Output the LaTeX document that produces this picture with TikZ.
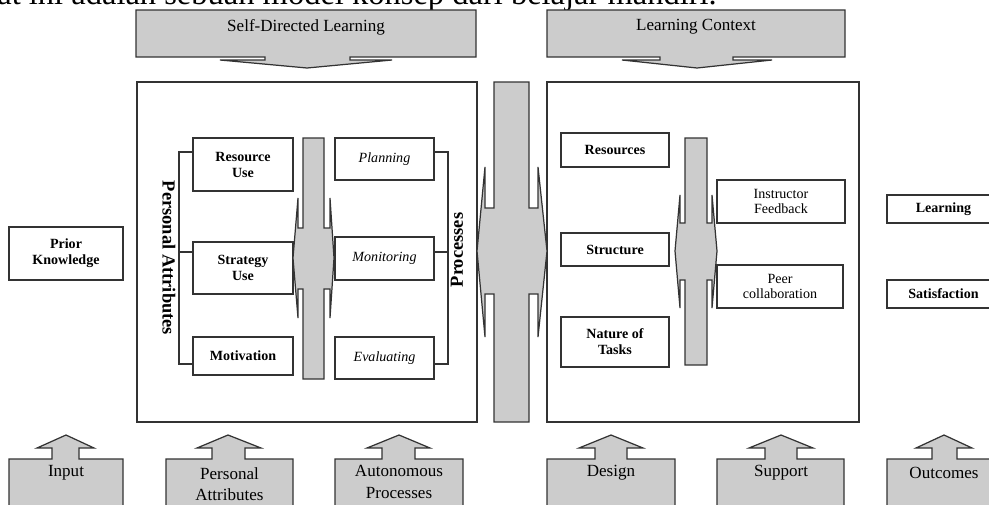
\documentclass[tikz,border=0pt]{standalone}
\usepackage{fontspec}
\setmainfont{Liberation Serif}
\definecolor{boxgray}{HTML}{CCCCCC}
\definecolor{linegray}{HTML}{333333}
\tikzset{
  lin/.style={draw=linegray, line width=0.7pt},
  garrow/.style={draw=linegray, fill=boxgray, line width=0.7pt, line join=miter},
  ibox/.style={draw=linegray, line width=0.7pt, align=center, inner sep=1pt,
    font=\fontsize{8}{9.1}\selectfont\bfseries},
  pbox/.style={ibox, font=\fontsize{8}{9.1}\selectfont\itshape},
  rbox/.style={ibox, font=\fontsize{8}{8.6}\selectfont},
  lbl/.style={align=center, inner sep=0pt, font=\fontsize{9.7}{12.3}\selectfont},
  rlbl/.style={inner sep=0pt, font=\fontsize{10.5}{12}\selectfont\bfseries}
}
\begin{document}
\begin{tikzpicture}[x=0.02cm, y=-0.02cm]
\useasboundingbox (0,0) rectangle (989,504);
\clip (0,0) rectangle (989,504);
% line of text cut by the top edge
\node[anchor=base west, inner sep=0pt, font=\fontsize{18.5}{20}\selectfont] (capt) at (-3,4)
  {at ini adalah sebuah model konsep dari belajar mandiri.};
% top arrows
\draw[garrow] (136,10) -- (476,10) -- (476,57) -- (350,57) -- (350,60) -- (392,60) -- (307,68)
  -- (220,60) -- (265,60) -- (265,57) -- (136,57) -- cycle;
\node[lbl] (sdl) at (306,27) {Self-Directed Learning};
\draw[garrow] (547,10) -- (845,10) -- (845,57) -- (733,57) -- (733,60) -- (772,60) -- (697,68)
  -- (622,60) -- (660,60) -- (660,57) -- (547,57) -- cycle;
\node[lbl] (lctx) at (696,27) {Learning Context};
% the two frames
\draw[lin] (137,82) rectangle (477,422);
\draw[lin] (547,82) rectangle (859,422);
% big arrow between the frames
\draw[garrow] (494,82) -- (494,208) -- (485,208) -- (485,167) -- (477,251) -- (485,337) -- (485,294)
  -- (494,294) -- (494,422) -- (529,422) -- (529,294) -- (538,294) -- (538,337) -- (547,251)
  -- (538,167) -- (538,208) -- (529,208) -- (529,82) -- cycle;
% self-directed learning
\node[ibox, minimum width=2cm, minimum height=1.06cm] (resuse) at (243,164.5) {Resource\\Use};
\node[ibox, minimum width=2cm, minimum height=1.04cm] (stratuse) at (243,268) {Strategy\\Use};
\node[ibox, minimum width=2cm, minimum height=0.76cm] (motiv) at (243,356) {Motivation};
\node[pbox, minimum width=1.98cm, minimum height=0.84cm] (plan) at (384.5,159) {Planning};
\node[pbox, minimum width=1.98cm, minimum height=0.86cm] (monit) at (384.5,258.5) {Monitoring};
\node[pbox, minimum width=1.98cm, minimum height=0.84cm] (evalu) at (384.5,358) {Evaluating};
\draw[garrow] (303,138) -- (303,228) -- (298,228) -- (298,198) -- (293,258) -- (298,318) -- (298,289)
  -- (303,289) -- (303,379) -- (324,379) -- (324,289) -- (330,289) -- (330,318) -- (334,258)
  -- (330,198) -- (330,228) -- (324,228) -- (324,138) -- cycle;
\coordinate (pa1) at (179,152);
\coordinate (pa2) at (179,252);
\coordinate (pa3) at (179,364);
\draw[lin] (pa1 -| resuse.west) -- (pa1) -- (pa3) -- (pa3 -| motiv.west);
\draw[lin] (pa2) -- (pa2 -| stratuse.west);
\coordinate (pr1) at (448,152);
\coordinate (pr2) at (448,252);
\coordinate (pr3) at (448,364);
\draw[lin] (pr1 -| plan.east) -- (pr1) -- (pr3) -- (pr3 -| evalu.east);
\draw[lin] (pr2) -- (pr2 -| monit.east);
\node[rlbl, rotate=-90] (pattr) at (169,258) {Personal Attributes};
\node[rlbl, rotate=90] (proc) at (457,250) {Processes};
% learning context
\node[ibox, minimum width=2.16cm, minimum height=0.68cm] (resrc) at (615,150) {Resources};
\node[ibox, minimum width=2.16cm, minimum height=0.66cm] (struc) at (615,249.5) {Structure};
\node[ibox, minimum width=2.16cm, minimum height=1cm] (natur) at (615,342) {Nature of\\Tasks};
\node[rbox, minimum width=2.56cm, minimum height=0.86cm] (instr) at (781,201.5) {Instructor\\Feedback};
\node[rbox, minimum width=2.52cm, minimum height=0.86cm] (peer) at (780,286.5) {Peer\\collaboration};
\draw[garrow] (685,138) -- (685,223) -- (680,223) -- (680,195) -- (675,251) -- (680,308) -- (680,280)
  -- (685,280) -- (685,365) -- (707,365) -- (707,280) -- (712,280) -- (712,308) -- (717,251)
  -- (712,195) -- (712,223) -- (707,223) -- (707,138) -- cycle;
% input and outcomes
\node[ibox, minimum width=2.28cm, minimum height=1.06cm] (prior) at (66,253.5) {Prior\\Knowledge};
\node[ibox, minimum width=2.26cm, minimum height=0.56cm] (learn) at (943.5,209) {Learning};
\node[ibox, minimum width=2.26cm, minimum height=0.56cm] (satis) at (943.5,294) {Satisfaction};
% bottom arrows
\draw[garrow] (9,510) -- (9,459) -- (52,459) -- (52,448) -- (37,448) -- (66,435) -- (94,448)
  -- (79,448) -- (79,459) -- (123,459) -- (123,510) -- cycle;
\node[lbl] (inp) at (66,473) {Input};
\draw[garrow] (166,510) -- (166,459) -- (212,459) -- (212,448) -- (197,448) -- (228,435) -- (261,448)
  -- (245,448) -- (245,459) -- (293,459) -- (293,510) -- cycle;
\node[lbl] (pers) at (229.5,484) {Personal\\Attributes};
\draw[garrow] (335,510) -- (335,459) -- (382,459) -- (382,448) -- (367,448) -- (399,435) -- (430,448)
  -- (415,448) -- (415,459) -- (463,459) -- (463,510) -- cycle;
\node[lbl] (auto) at (399,482) {Autonomous\\Processes};
\draw[garrow] (547,510) -- (547,459) -- (595,459) -- (595,448) -- (579,448) -- (611,435) -- (643,448)
  -- (627,448) -- (627,459) -- (675,459) -- (675,510) -- cycle;
\node[lbl] (desg) at (611,473) {Design};
\draw[garrow] (717,510) -- (717,459) -- (765,459) -- (765,448) -- (749,448) -- (781,435) -- (813,448)
  -- (797,448) -- (797,459) -- (844,459) -- (844,510) -- cycle;
\node[lbl] (supp) at (781,473) {Support};
\draw[garrow] (887,510) -- (887,459) -- (932,459) -- (932,448) -- (916,448) -- (944,435) -- (972,448)
  -- (957,448) -- (957,459) -- (1000,459) -- (1000,510) -- cycle;
\node[lbl] (outc) at (944,473) {Outcomes};
\end{tikzpicture}
\end{document}
